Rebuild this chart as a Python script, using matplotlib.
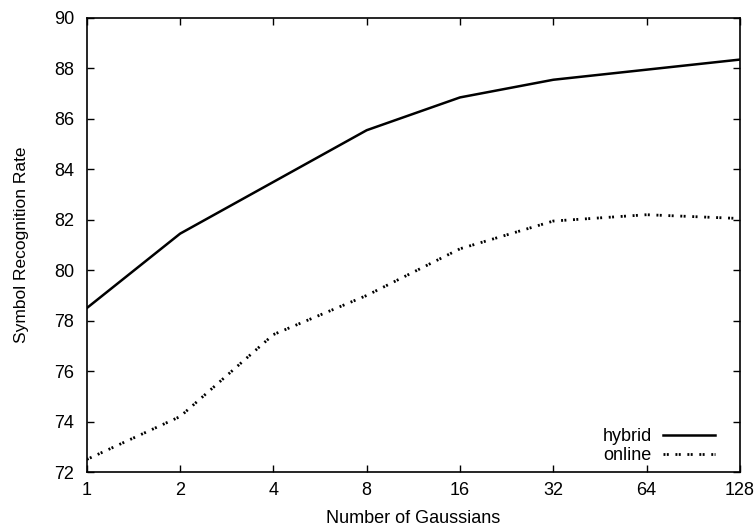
import matplotlib
matplotlib.use("Agg")
import matplotlib.pyplot as plt

# data
gaussians = [1, 2, 4, 8, 16, 32, 64, 128]
hybrid = [78.5, 81.45, 83.5, 85.55, 86.85, 87.55, 87.95, 88.35]
online = [72.5, 74.2, 77.45, 79.0, 80.85, 81.95, 82.2, 82.05]
yticks = [72, 74, 76, 78, 80, 82, 84, 86, 88, 90]

plt.rcParams['font.family'] = ['Liberation Sans', 'DejaVu Sans']
plt.rcParams['font.size'] = 13

fig = plt.figure(figsize=(7.55, 5.28), dpi=100)
ax = fig.add_axes([0.115, 0.106, 0.865, 0.86])

ax.plot(gaussians, hybrid, color='black', lw=1.8, label='hybrid')
ax.plot(gaussians, online, color='black', lw=2.0,
        linestyle=(0, (0.7, 0.5, 0.7, 2.4)), label='online')

ax.set_xscale('log', base=2)
ax.set_xlim(1, 128)
ax.set_ylim(72, 90)
ax.set_xticks(gaussians)
ax.set_xticklabels([str(g) for g in gaussians])
ax.minorticks_off()
ax.set_yticks(yticks)

ax.tick_params(direction='in', top=True, right=True, length=5, width=1)
ax.tick_params(axis='x', pad=7)
ax.tick_params(axis='y', pad=9)
for s in ax.spines.values():
    s.set_linewidth(1.2)

ax.set_xlabel('Number of Gaussians')
ax.set_ylabel('Symbol Recognition Rate', fontsize=12.5)
ax.xaxis.set_label_coords(0.5, -0.083)
ax.yaxis.set_label_coords(-0.089, 0.5)

ax.legend(loc='lower right', bbox_to_anchor=(0.962, 0.018), frameon=False,
          markerfirst=False, handlelength=2.9, handletextpad=0.6,
          labelspacing=0.1, borderaxespad=0.0, borderpad=0.0)

fig.savefig('out.png', dpi=100)
